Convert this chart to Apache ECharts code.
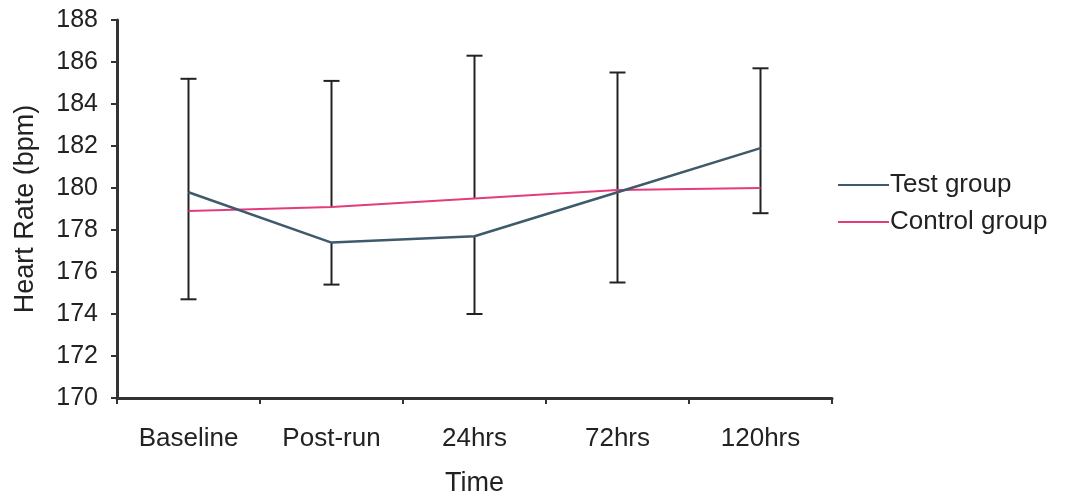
<!DOCTYPE html>
<html>
<head>
<meta charset="utf-8">
<script src="https://cdn.jsdelivr.net/npm/echarts@6/dist/echarts.min.js"></script>
<style>
html,body{margin:0;padding:0;background:#fff;}
#c{width:1065px;height:496px;}
</style>
</head>
<body>
<div id="c"></div>
<script>
var categories = ['Baseline', 'Post-run', '24hrs', '72hrs', '120hrs'];
var testGroup = [179.8, 177.4, 177.7, 179.8, 181.9];
var controlGroup = [178.9, 179.1, 179.5, 179.9, 180.0];
// error bars: upper segment (from -> top), lower segment (from -> bottom)
var errUpperFrom = [179.8, 179.1, 179.5, 179.8, 181.9];
var errUpperTo = [185.2, 185.1, 186.3, 185.5, 185.7];
var errLowerFrom = [179.8, 177.4, 177.7, 179.8, 181.9];
var errLowerTo = [174.7, 175.4, 174.0, 175.5, 178.8];

var errData = categories.map(function (c, i) {
  return [i, errUpperFrom[i], errUpperTo[i], errLowerFrom[i], errLowerTo[i]];
});

var chart = echarts.init(document.getElementById('c'));
var font = 'Liberation Sans, Arial, sans-serif';
var axisColor = '#333';
var testColor = '#3f5a6b';
var controlColor = '#e33c7c';
chart.setOption({
  animation: false,
  textStyle: { fontFamily: font },
  grid: { left: 117, top: 20, right: 233, bottom: 98, containLabel: false, outerBoundsMode: 'none' },
  legend: {
    orient: 'vertical',
    left: 833,
    top: 167,
    itemWidth: 51,
    itemHeight: 2,
    itemGap: 11,
    textStyle: { fontSize: 26, color: '#222', fontFamily: font, padding: [0, 0, 0, -4] },
    data: [
      { name: 'Test group', icon: 'rect', itemStyle: { color: testColor } },
      { name: 'Control group', icon: 'rect', itemStyle: { color: controlColor } }
    ]
  },
  xAxis: {
    type: 'category',
    data: categories,
    boundaryGap: true,
    name: 'Time',
    nameLocation: 'middle',
    nameGap: 72,
    nameTextStyle: { fontSize: 27, color: '#222', fontFamily: font },
    axisLine: { lineStyle: { color: axisColor, width: 3 } },
    axisTick: { show: true, length: 6, lineStyle: { color: axisColor, width: 2 } },
    axisLabel: { fontSize: 26, color: '#222', margin: 28, fontFamily: font }
  },
  yAxis: {
    type: 'value',
    min: 170,
    max: 188,
    interval: 2,
    name: 'Heart Rate (bpm)',
    nameLocation: 'middle',
    nameGap: 78,
    nameTextStyle: { fontSize: 27, color: '#222', fontFamily: font },
    axisLine: { show: true, lineStyle: { color: axisColor, width: 3 } },
    axisTick: { show: true, length: 6, lineStyle: { color: axisColor, width: 2 } },
    axisLabel: { fontSize: 25, color: '#222', margin: 19, fontFamily: font },
    splitLine: { show: false }
  },
  series: [
    {
      type: 'custom',
      name: 'err',
      z: 1,
      data: errData,
      renderItem: function (params, api) {
        var x = api.value(0);
        var uf = api.coord([x, api.value(1)]);
        var ut = api.coord([x, api.value(2)]);
        var lf = api.coord([x, api.value(3)]);
        var lt = api.coord([x, api.value(4)]);
        var half = 8;
        var st = { stroke: '#222', lineWidth: 2 };
        return {
          type: 'group',
          children: [
            { type: 'line', shape: { x1: uf[0], y1: uf[1], x2: ut[0], y2: ut[1] }, style: st },
            { type: 'line', shape: { x1: ut[0] - half, y1: ut[1], x2: ut[0] + half, y2: ut[1] }, style: st },
            { type: 'line', shape: { x1: lf[0], y1: lf[1], x2: lt[0], y2: lt[1] }, style: st },
            { type: 'line', shape: { x1: lt[0] - half, y1: lt[1], x2: lt[0] + half, y2: lt[1] }, style: st }
          ]
        };
      }
    },
    {
      name: 'Test group',
      type: 'line',
      data: testGroup,
      symbol: 'none',
      z: 3,
      lineStyle: { color: testColor, width: 2.5 },
      itemStyle: { color: testColor }
    },
    {
      name: 'Control group',
      type: 'line',
      data: controlGroup,
      symbol: 'none',
      z: 2,
      lineStyle: { color: controlColor, width: 2 },
      itemStyle: { color: controlColor }
    }
  ]
});
</script>
</body>
</html>
